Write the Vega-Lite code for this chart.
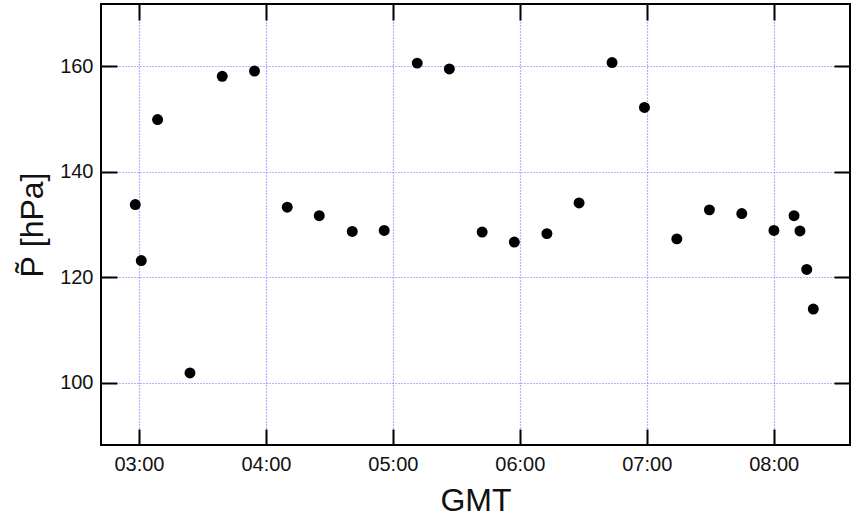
{
  "$schema": "https://vega.github.io/schema/vega-lite/v6.json",
  "width": 749,
  "height": 441,
  "autosize": {"type": "none"},
  "padding": {"left": 101, "top": 4, "right": 2, "bottom": 75},
  "background": "white",
  "config": {
    "font": "Liberation Sans",
    "view": {"stroke": "black", "strokeWidth": 2},
    "axis": {
      "domain": false,
      "tickColor": "black",
      "tickWidth": 2,
      "tickSize": -16,
      "labelFont": "Liberation Sans",
      "labelFontSize": 20,
      "labelColor": "#111",
      "titleFont": "Liberation Sans",
      "titleFontSize": 32,
      "titleFontWeight": "normal",
      "titleColor": "#111",
      "gridColor": "#6a6aff",
      "gridDash": [1, 2],
      "gridWidth": 1.2,
      "gridOpacity": 1
    }
  },
  "data": {
    "values": [
      {"t": "2020-01-01T02:58:15Z", "p": 133.8},
      {"t": "2020-01-01T03:01:05Z", "p": 123.2},
      {"t": "2020-01-01T03:08:48Z", "p": 149.9},
      {"t": "2020-01-01T03:24:06Z", "p": 101.9},
      {"t": "2020-01-01T03:39:21Z", "p": 158.1},
      {"t": "2020-01-01T03:54:36Z", "p": 159.1},
      {"t": "2020-01-01T04:10:04Z", "p": 133.3},
      {"t": "2020-01-01T04:25:12Z", "p": 131.7},
      {"t": "2020-01-01T04:40:48Z", "p": 128.7},
      {"t": "2020-01-01T04:55:54Z", "p": 128.9},
      {"t": "2020-01-01T05:11:30Z", "p": 160.6},
      {"t": "2020-01-01T05:26:42Z", "p": 159.5},
      {"t": "2020-01-01T05:42:12Z", "p": 128.6},
      {"t": "2020-01-01T05:57:24Z", "p": 126.7},
      {"t": "2020-01-01T06:12:48Z", "p": 128.3},
      {"t": "2020-01-01T06:28:00Z", "p": 134.1},
      {"t": "2020-01-01T06:43:36Z", "p": 160.7},
      {"t": "2020-01-01T06:58:54Z", "p": 152.2},
      {"t": "2020-01-01T07:14:12Z", "p": 127.3},
      {"t": "2020-01-01T07:29:36Z", "p": 132.8},
      {"t": "2020-01-01T07:44:54Z", "p": 132.1},
      {"t": "2020-01-01T08:00:06Z", "p": 128.9},
      {"t": "2020-01-01T08:09:36Z", "p": 131.7},
      {"t": "2020-01-01T08:12:24Z", "p": 128.8},
      {"t": "2020-01-01T08:15:36Z", "p": 121.5},
      {"t": "2020-01-01T08:18:42Z", "p": 114.0}
    ]
  },
  "layer": [
    {
      "mark": {"type": "circle", "color": "black", "opacity": 1, "size": 120},
      "encoding": {
        "x": {
          "field": "t", "type": "temporal",
          "scale": {"type": "utc", "domain": ["2020-01-01T02:42:03Z", "2020-01-01T08:36:03Z"]},
          "axis": {
            "orient": "bottom", "grid": true, "title": "GMT", "format": "%H:%M", "labelPadding": 25, "titlePadding": 11, "labelFlush": false, "labelOverlap": false,
            "values": [
              {"year": 2020, "month": 1, "date": 1, "hours": 3, "utc": true},
              {"year": 2020, "month": 1, "date": 1, "hours": 4, "utc": true},
              {"year": 2020, "month": 1, "date": 1, "hours": 5, "utc": true},
              {"year": 2020, "month": 1, "date": 1, "hours": 6, "utc": true},
              {"year": 2020, "month": 1, "date": 1, "hours": 7, "utc": true},
              {"year": 2020, "month": 1, "date": 1, "hours": 8, "utc": true}
            ]
          }
        },
        "y": {
          "field": "p", "type": "quantitative",
          "scale": {"domain": [88.25, 171.8], "nice": false, "zero": false},
          "axis": {"orient": "left", "grid": true, "title": "P̃ [hPa]", "labelPadding": 24, "titlePadding": 10, "values": [100, 120, 140, 160]}
        }
      }
    },
    {
      "mark": {"type": "point", "opacity": 0},
      "encoding": {
        "x": {
          "field": "t", "type": "temporal",
          "scale": {"type": "utc", "domain": ["2020-01-01T02:42:03Z", "2020-01-01T08:36:03Z"]},
          "axis": {
            "orient": "top", "labels": false, "title": null, "grid": false,
            "values": [
              {"year": 2020, "month": 1, "date": 1, "hours": 3, "utc": true},
              {"year": 2020, "month": 1, "date": 1, "hours": 4, "utc": true},
              {"year": 2020, "month": 1, "date": 1, "hours": 5, "utc": true},
              {"year": 2020, "month": 1, "date": 1, "hours": 6, "utc": true},
              {"year": 2020, "month": 1, "date": 1, "hours": 7, "utc": true},
              {"year": 2020, "month": 1, "date": 1, "hours": 8, "utc": true}
            ]
          }
        },
        "y": {
          "field": "p", "type": "quantitative",
          "scale": {"domain": [88.25, 171.8], "nice": false, "zero": false},
          "axis": {"orient": "right", "labels": false, "title": null, "grid": false, "values": [100, 120, 140, 160]}
        }
      }
    }
  ],
  "resolve": {"axis": {"x": "independent", "y": "independent"}}
}
